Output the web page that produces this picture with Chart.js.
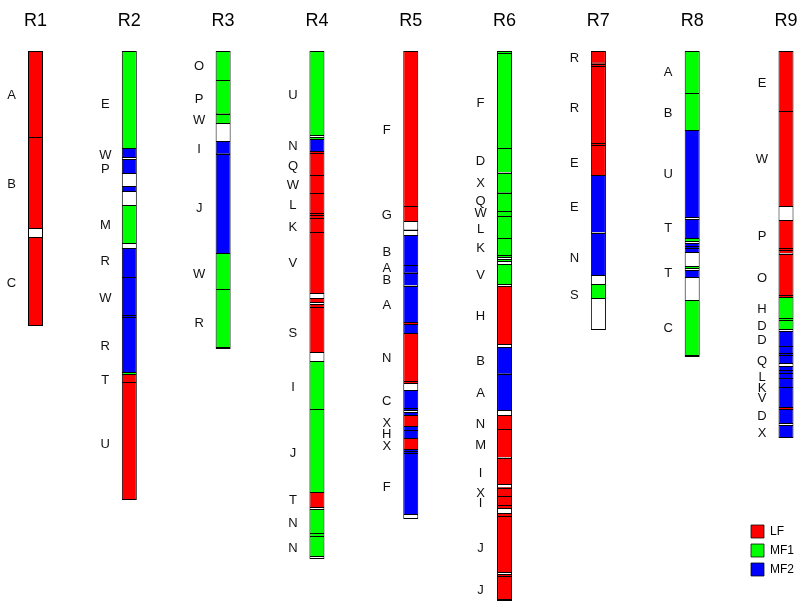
<!DOCTYPE html>
<html>
<head>
<meta charset="utf-8">
<script src="https://cdn.jsdelivr.net/npm/chart.js@4.4.0/dist/chart.umd.min.js"></script>
<style>
  html, body { margin: 0; padding: 0; background: #fff; }
</style>
</head>
<body>
<canvas id="chart" width="810" height="605"></canvas>
<script>
// linkage groups
const columns = ['R1', 'R2', 'R3', 'R4', 'R5', 'R6', 'R7', 'R8', 'R9'];

// segments: [start, end, type] from top of each bar
const segR1 = [[0,86,'LF'],[86,177,'LF'],[177,186,'gap'],[186,275,'LF']];
const segR2 = [[0,97,'MF1'],[97,106,'MF2'],[106,108,'gap'],[108,122,'MF2'],[122,135,'gap'],[135,140,'MF2'],[140,154,'gap'],
  [154,192,'MF1'],[192,197,'gap'],[197,226,'MF2'],[226,264,'MF2'],[264,266,'MF2'],[266,321,'MF2'],[321,323,'MF1'],[323,331,'LF'],[331,449,'LF']];
const segR3 = [[0,29,'MF1'],[29,62,'MF1'],[62,63,'MF1'],[63,72,'MF1'],[72,90,'gap'],[90,102,'MF2'],[102,103,'MF2'],[103,202,'MF2'],
  [202,238,'MF1'],[238,296,'MF1'],[296,298,'gap']];
const segR4 = [[0,84,'MF1'],[84,86,'gap'],[86,88,'MF1'],[88,100,'MF2'],[100,102,'LF'],[102,124,'LF'],[124,142,'LF'],[142,162,'LF'],
  [162,164,'LF'],[164,167,'LF'],[167,181,'LF'],[181,242,'LF'],[242,247,'gap'],[247,251,'LF'],[251,253,'gap'],[253,256,'LF'],
  [256,301,'LF'],[301,310,'gap'],[310,358,'MF1'],[358,441,'MF1'],[441,456,'LF'],[456,458,'gap'],[458,482,'MF1'],[482,485,'MF1'],
  [485,505,'MF1'],[505,508,'gap']];
const segR5 = [[0,155,'LF'],[155,170,'LF'],[170,178,'gap'],[178,179,'gap'],[179,184,'gap'],[184,214,'MF2'],[214,221,'MF2'],[221,222,'MF2'],
  [222,234,'MF2'],[234,235,'gap'],[235,271,'MF2'],[271,273,'LF'],[273,282,'MF2'],[282,330,'LF'],[330,332,'LF'],[332,339,'gap'],
  [339,357,'MF2'],[357,359,'MF2'],[359,361,'gap'],[361,364,'MF2'],[364,375,'LF'],[375,379,'MF2'],[379,387,'MF2'],[387,398,'LF'],
  [398,400,'MF2'],[400,402,'MF2'],[402,463,'MF2'],[463,468,'gap']];
const segR6 = [[0,2,'MF1'],[2,97,'MF1'],[97,121,'MF1'],[121,122,'gap'],[122,141,'MF1'],[141,142,'MF1'],[142,160,'MF1'],[160,165,'MF1'],
  [165,187,'MF1'],[187,204,'MF1'],[204,206,'MF1'],[206,208,'gap'],[208,210,'MF1'],[210,213,'gap'],[213,233,'MF1'],[233,235,'gap'],
  [235,293,'LF'],[293,296,'gap'],[296,322,'MF2'],[322,323,'MF2'],[323,359,'MF2'],[359,364,'gap'],[364,378,'LF'],[378,406,'LF'],
  [406,407,'gap'],[407,433,'LF'],[433,436,'gap'],[436,437,'LF'],[437,445,'LF'],[445,454,'LF'],[454,457,'LF'],[457,462,'gap'],
  [462,465,'LF'],[465,521,'LF'],[521,523,'gap'],[523,525,'LF'],[525,548,'LF'],[548,550,'gap']];
const segR7 = [[0,11,'LF'],[11,12,'LF'],[12,13,'LF'],[13,15,'LF'],[15,92,'LF'],[92,94,'LF'],[94,124,'LF'],[124,181,'MF2'],[181,182,'gap'],
  [182,224,'MF2'],[224,233,'gap'],[233,247,'MF1'],[247,279,'gap']];
const segR8 = [[0,42,'MF1'],[42,79,'MF1'],[79,166,'MF2'],[166,168,'gap'],[168,187,'MF2'],[187,190,'MF1'],[190,192,'gap'],[192,195,'MF2'],
  [195,197,'MF2'],[197,201,'MF2'],[201,215,'gap'],[215,217,'MF1'],[217,219,'gap'],[219,226,'MF2'],[226,249,'gap'],[249,304,'MF1'],[304,306,'gap']];
const segR9 = [[0,60,'LF'],[60,155,'LF'],[155,169,'gap'],[169,197,'LF'],[197,199,'LF'],[199,202,'LF'],[202,203,'gap'],[203,244,'LF'],
  [244,246,'LF'],[246,267,'MF1'],[267,269,'MF1'],[269,278,'MF1'],[278,280,'gap'],[280,295,'MF2'],[295,302,'MF2'],[302,304,'MF2'],
  [304,312,'MF2'],[312,315,'gap'],[315,319,'MF2'],[319,322,'MF2'],[322,327,'MF2'],[327,336,'MF2'],[336,356,'MF2'],[356,358,'LF'],
  [358,372,'MF2'],[372,374,'gap'],[374,387,'MF2']];

// marker labels: [name, position]
const labR1 = [['A',44],['B',133],['C',232]];
const labR2 = [['E',53],['W',104],['P',118],['M',174],['R',210],['W',247],['R',295],['T',329],['U',393]];
const labR3 = [['O',15],['P',48],['W',69],['I',98],['J',157],['W',223],['R',272]];
const labR4 = [['U',44],['N',95],['Q',115],['W',134],['L',154],['K',176],['V',212],['S',282],['I',336],['J',402],['T',449],['N',472],['N',497]];
const labR5 = [['F',79],['G',164],['B',201],['A',217],['B',229],['A',254],['N',307],['C',350],['X',372],['H',383],['X',395],['F',436]];
const labR6 = [['F',52],['D',110],['X',132],['Q',150],['W',162],['L',178],['K',197],['V',224],['H',265],['B',310],['A',342],['N',373],
  ['M',394],['I',422],['X',442],['I',452],['J',497],['J',539]];
const labR7 = [['R',7],['R',57],['E',112],['E',156],['N',207],['S',244]];
const labR8 = [['A',21],['B',62],['U',123],['T',177],['T',222],['C',277]];
const labR9 = [['E',32],['W',108],['P',185],['O',227],['H',258],['D',275],['D',289],['Q',310],['L',326],['K',337],['V',347],['D',365],['X',382]];

const segments = [segR1, segR2, segR3, segR4, segR5, segR6, segR7, segR8, segR9];
const markers = [labR1, labR2, labR3, labR4, labR5, labR6, labR7, labR8, labR9];

const types = ['LF', 'MF1', 'MF2', 'gap'];
const colors = { LF: '#ff0000', MF1: '#00ff00', MF2: '#0000ff', gap: '#ffffff' };

const datasets = types.map(t => ({
    label: t,
    data: [],
    backgroundColor: colors[t],
    borderColor: '#000',
    borderWidth: ctx => ({ top: 1, left: 1, right: 1, bottom: (!ctx.raw || ctx.raw.last) ? 1 : 0 }),
    borderSkipped: false,
    barThickness: 15,
    maxBarThickness: 15,
    grouped: false,
    inflateAmount: 0,
    clip: false
}));

segments.forEach((col, i) => {
    col.forEach((s, j) => {
        datasets[types.indexOf(s[2])].data.push({ x: i + 1, y: [s[0], s[1]], last: j === col.length - 1 });
    });
});

// letters to the left of each bar
const markerLabels = {
    id: 'markerLabels',
    afterDatasetsDraw(chart) {
        const { ctx, scales: { x, y } } = chart;
        ctx.save();
        ctx.font = '13px Arial, "Liberation Sans", sans-serif';
        ctx.fillStyle = '#111';
        ctx.textAlign = 'center';
        ctx.textBaseline = 'middle';
        markers.forEach((col, i) => {
            col.forEach(([name, pos]) => {
                ctx.fillText(name, x.getPixelForValue(i + 1) - 24, y.getPixelForValue(pos));
            });
        });
        ctx.restore();
    }
};

// put the legend in the lower right corner
const legendSpot = {
    id: 'legendSpot',
    afterLayout(chart) {
        const lg = chart.legend;
        lg.left = 745;
        lg.top = 519;
        lg.right = 810;
        lg.bottom = 605;
        lg.width = 65;
        lg.height = 86;
    }
};

const xMin = 1 - 35.5 / 93.8125;
const xMax = xMin + 810 / 93.8125;

new Chart(document.getElementById('chart'), {
    type: 'bar',
    data: { datasets },
    options: {
        responsive: false,
        animation: false,
        layout: { padding: { top: 2, left: 0, right: 0, bottom: 0 } },
        scales: {
            x: {
                type: 'linear',
                position: 'top',
                offset: false,
                min: xMin,
                max: xMax,
                grid: { display: false, drawTicks: false },
                border: { display: false },
                afterBuildTicks: scale => { scale.ticks = columns.map((c, i) => ({ value: i + 1 })); },
                ticks: {
                    padding: 8,
                    color: '#000',
                    font: { family: 'Arial, "Liberation Sans", sans-serif', size: 18, lineHeight: '22px' },
                    callback: v => columns[v - 1]
                }
            },
            y: {
                type: 'linear',
                reverse: true,
                min: -11,
                max: 554,
                display: false
            }
        },
        plugins: {
            tooltip: { enabled: false },
            legend: {
                position: 'chartArea',
                fullSize: false,
                align: 'start',
                labels: {
                    boxWidth: 13,
                    boxHeight: 13,
                    padding: 6,
                    color: '#000',
                    font: { family: 'Arial, "Liberation Sans", sans-serif', size: 12 },
                    filter: item => item.text !== 'gap'
                }
            }
        }
    },
    plugins: [markerLabels, legendSpot]
});
</script>
</body>
</html>
